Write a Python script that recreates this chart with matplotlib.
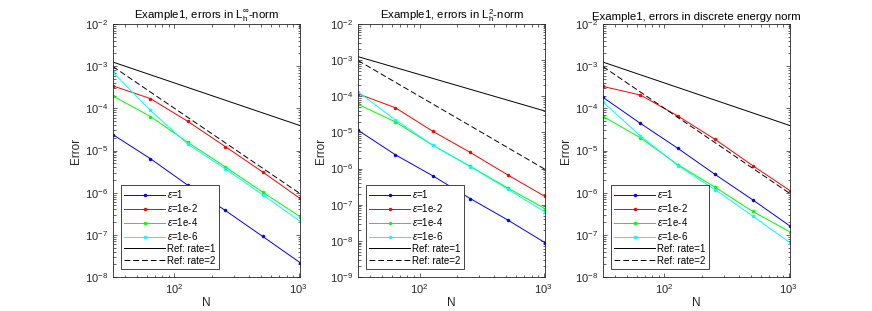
import matplotlib
matplotlib.use("Agg")
import matplotlib.pyplot as plt
from matplotlib.ticker import LogLocator, NullFormatter

plt.rcParams['font.family'] = ['Liberation Sans', 'DejaVu Sans']
plt.rcParams['mathtext.fontset'] = 'custom'
plt.rcParams['mathtext.rm'] = 'Liberation Sans'
plt.rcParams['mathtext.it'] = 'Liberation Sans:italic'

N = [32, 64, 128, 256, 512, 1024]
labels = ['$\\epsilon$=1', '$\\epsilon$=1e-2', '$\\epsilon$=1e-4', '$\\epsilon$=1e-6']
colors = ['#0000ff', '#ff0000', '#00ff00', '#00ffff']

ref_rate1 = [1.25e-3, 6.25e-4, 3.125e-4, 1.5625e-4, 7.8125e-5, 3.906e-5]
ref_rate2 = [9.77e-4, 2.44e-4, 6.10e-5, 1.53e-5, 3.81e-6, 9.54e-7]

# errors in L_h^inf norm
err_inf = [
    [2.37e-5, 6.4e-6, 1.5e-6, 3.8e-7, 9.2e-8, 2.2e-8],
    [3.4e-4, 1.7e-4, 4.9e-5, 1.24e-5, 3.1e-6, 7.3e-7],
    [1.95e-4, 6.4e-5, 1.56e-5, 4.1e-6, 1.03e-6, 2.7e-7],
    [7.1e-4, 8.9e-5, 1.41e-5, 3.7e-6, 8.9e-7, 2.1e-7],
]
# errors in L_h^2 norm
err_l2 = [
    [1.15e-5, 2.4e-6, 6.3e-7, 1.48e-7, 3.8e-8, 8.9e-9],
    [1.17e-4, 4.8e-5, 1.07e-5, 2.8e-6, 6.7e-7, 1.69e-7],
    [6.0e-5, 1.94e-5, 4.4e-6, 1.15e-6, 2.9e-7, 7.8e-8],
    [1.32e-4, 2.2e-5, 4.4e-6, 1.13e-6, 2.7e-7, 6.3e-8],
]
# errors in discrete energy norm
err_energy = [
    [1.82e-4, 4.4e-5, 1.13e-5, 2.7e-6, 6.8e-7, 1.62e-7],
    [3.3e-4, 2.07e-4, 6.6e-5, 1.83e-5, 4.4e-6, 1.12e-6],
    [6.4e-5, 2.0e-5, 4.6e-6, 1.34e-6, 3.6e-7, 1.17e-7],
    [1.41e-4, 2.2e-5, 4.4e-6, 1.17e-6, 2.8e-7, 6.5e-8],
]

titles = ['Example1, errors in $\\mathregular{L_h^{\\infty}}$-norm',
          'Example1, errors in $\\mathregular{L_h^{2}}$-norm',
          'Example1, errors in discrete energy norm']
ydecades = [(-8, -2), (-9, -2), (-8, -2)]
lefts = [0.1296, 0.4106, 0.6915]

axcol = '#262626'
fig = plt.figure(figsize=(8.72, 3.11), dpi=100)

for k, errs in enumerate([err_inf, err_l2, err_energy]):
    ax = fig.add_axes([lefts[k], 0.1093, 0.2144, 0.8135])
    for e, c, lab in zip(errs, colors, labels):
        ax.loglog(N, e, '-', color=c, marker='.', markersize=3, lw=0.7, label=lab)
    ax.loglog(N, ref_rate1, '-', color='k', lw=0.7, label='Ref: rate=1')
    ax.loglog(N, ref_rate2, '--', color='k', lw=0.7, dashes=(6, 3), label='Ref: rate=2')
    lo, hi = ydecades[k]
    ax.set_xlim(32, 1024)
    ax.set_ylim(10.0 ** lo, 10.0 ** hi)
    ax.set_xticks([100, 1000])
    ax.set_yticks([10.0 ** p for p in range(lo, hi + 1)])
    ax.yaxis.set_minor_locator(LogLocator(base=10, subs=range(2, 10), numticks=12))
    ax.yaxis.set_minor_formatter(NullFormatter())
    ax.xaxis.set_minor_formatter(NullFormatter())
    ax.tick_params(which='both', direction='in', top=True, right=True,
                   colors=axcol, labelsize=8, width=0.5)
    ax.tick_params(which='major', length=3)
    ax.tick_params(which='minor', length=1.8)
    for s in ax.spines.values():
        s.set_linewidth(0.6)
        s.set_color(axcol)
    ax.set_title(titles[k], fontsize=8.2, pad=3)
    ax.set_xlabel('N', fontsize=8.5, color=axcol, labelpad=1)
    ax.set_ylabel('Error', fontsize=8.5, color=axcol, labelpad=2)
    leg = ax.legend(loc='lower left', fontsize=7.0, handlelength=4.2,
                    fancybox=False, edgecolor=axcol, framealpha=1,
                    borderaxespad=0.8, labelspacing=0.2, handletextpad=0.2,
                    borderpad=0.35)
    leg.get_frame().set_linewidth(0.6)

fig.savefig('out.png', dpi=100)
